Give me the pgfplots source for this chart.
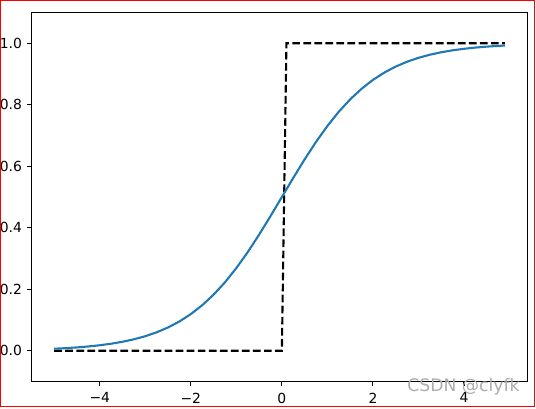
\documentclass[border=0pt]{standalone}
\usepackage{pgfplots}
\pgfplotsset{compat=1.18}
\usepackage{fontspec}
\setmainfont{DejaVu Sans}
\definecolor{mplblue}{HTML}{1F77B4}

\begin{document}
\begin{tikzpicture}
\begin{axis}[
  at={(0pt,0pt)}, anchor=south west,
  scale only axis,
  width=357pt, height=265.7pt,
  xmin=-5.495, xmax=5.395,
  ymin=-0.1, ymax=1.1,
  xtick={-4,-2,0,2,4},
  xticklabels={−4,−2,0,2,4},
  ytick={0,0.2,0.4,0.6,0.8,1.0},
  yticklabels={0.0,0.2,0.4,0.6,0.8,1.0},
  tick align=outside,
  tick pos=left,
  major tick length=3.5pt,
  every tick/.style={black, line width=0.8pt},
  axis line style={line width=0.8pt},
  ticklabel style={font=\fontsize{10}{12}\selectfont},
  xticklabel style={yshift=-1pt},
  /pgf/number format/assume math mode=true,
  clip=false,
]
% step function
\addplot[black, line width=1.5pt, dash pattern=on 5.55pt off 2.4pt] coordinates {
  (-5,0) (0,0) (0.1,1) (4.9,1)
};
% sigmoid
\addplot[mplblue, line width=1.5pt, line join=round] coordinates {
  (-5,0.00669) (-4.75,0.00858) (-4.5,0.01099) (-4.25,0.01406)
  (-4,0.01799) (-3.75,0.02298) (-3.5,0.02931) (-3.25,0.03733)
  (-3,0.04743) (-2.75,0.06009) (-2.5,0.07586) (-2.25,0.09535)
  (-2,0.11920) (-1.75,0.14805) (-1.5,0.18243) (-1.25,0.22270)
  (-1,0.26894) (-0.75,0.32082) (-0.5,0.37754) (-0.25,0.43782)
  (0,0.5) (0.25,0.56218) (0.5,0.62246) (0.75,0.67918)
  (1,0.73106) (1.25,0.77730) (1.5,0.81757) (1.75,0.85195)
  (2,0.88080) (2.25,0.90465) (2.5,0.92414) (2.75,0.93991)
  (3,0.95257) (3.25,0.96267) (3.5,0.97069) (3.75,0.97702)
  (4,0.98201) (4.25,0.98594) (4.5,0.98901) (4.75,0.99142)
  (4.9,0.99260)
};
\end{axis}
% watermark
\node[text=gray!65, font=\fontsize{12.4}{14}\selectfont, anchor=center, inner sep=0pt] at (310.9pt,-3.6pt) {CSDN @clyfk};
% red frame of the screenshot
\draw[red, line width=1.1pt] (-22.3pt,-18.1pt) rectangle (361.9pt,274.2pt);
\pgfresetboundingbox
\path (-22.8pt,-19.1pt) rectangle (363.1pt,274.7pt);
\end{tikzpicture}
\end{document}
